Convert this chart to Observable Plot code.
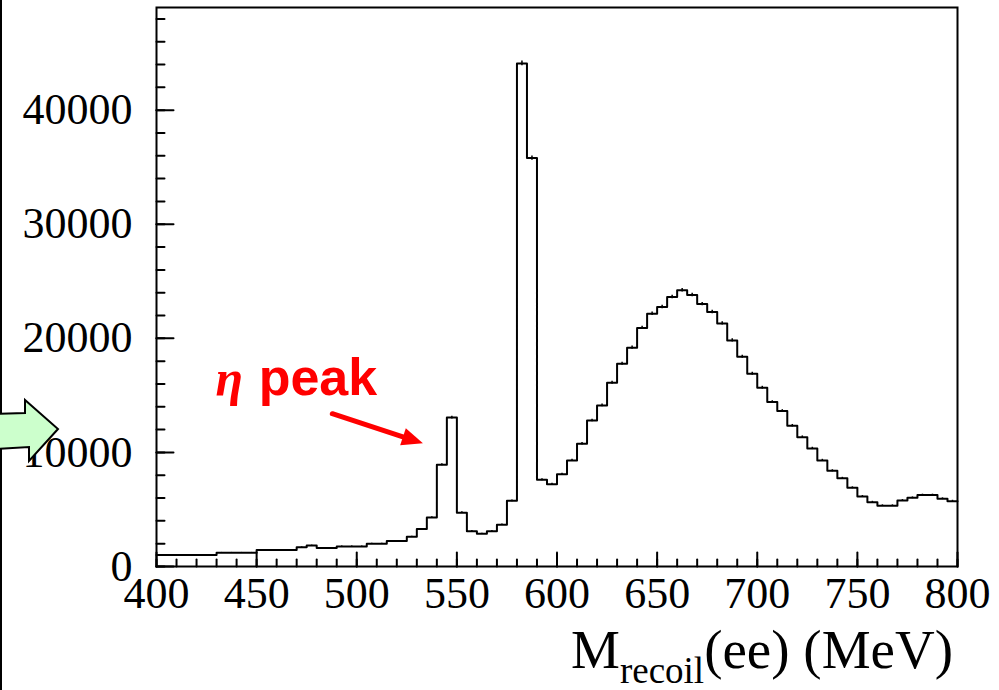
<!DOCTYPE html>
<html>
<head>
<meta charset="utf-8">
<script src="https://cdn.jsdelivr.net/npm/d3@7"></script>
<script src="https://cdn.jsdelivr.net/npm/@observablehq/plot@0.6"></script>
<style>
  html, body { margin: 0; padding: 0; background: #fff; }
  #chart { width: 999px; height: 690px; overflow: hidden; }
  #chart svg { display: block; }
</style>
</head>
<body>
<div id="chart"></div>
<script>
// Recoil mass spectrum M_recoil(ee), 5 MeV bins: lower bin edges (MeV)
const binLow = [
  400, 405, 410, 415, 420, 425, 430, 435, 440, 445,
  450, 455, 460, 465, 470, 475, 480, 485, 490, 495,
  500, 505, 510, 515, 520, 525, 530, 535, 540, 545,
  550, 555, 560, 565, 570, 575, 580, 585, 590, 595,
  600, 605, 610, 615, 620, 625, 630, 635, 640, 645,
  650, 655, 660, 665, 670, 675, 680, 685, 690, 695,
  700, 705, 710, 715, 720, 725, 730, 735, 740, 745,
  750, 755, 760, 765, 770, 775, 780, 785, 790, 795
];
const binWidth = 5;

// Entries per bin
const counts = [
  1000, 1000, 1000, 1000, 1000, 1000, 1200, 1200, 1200, 1200,
  1450, 1450, 1450, 1450, 1680, 1830, 1620, 1620, 1760, 1760,
  1760, 2000, 2000, 2240, 2240, 2600, 3280, 4300, 8920, 13050,
  4720, 3100, 2870, 3100, 3670, 5760, 44100, 35800, 7600, 7220,
  8080, 9300, 10760, 12800, 14120, 16110, 17780, 19180, 20910, 22160,
  22750, 23630, 24210, 23800, 23000, 22310, 21310, 19820, 18390, 16900,
  15670, 14410, 13630, 12340, 11340, 10350, 9300, 8390, 7730, 6900,
  6140, 5640, 5330, 5330, 5790, 6020, 6260, 6260, 5940, 5730
];

// Axis ticks
const xTickLabels = [400, 450, 500, 550, 600, 650, 700, 750, 800];
const xMinorTicks = d3.range(400, 801, 10);
const yTickLabels = [0, 10000, 20000, 30000, 40000];
const yMinorTicks = d3.range(0, 49000, 2000);

// "η peak" annotation, in data coordinates
const etaText = [{text: "η", x: 429.5, y: 15000}];
const peakText = [{text: "peak", x: 451, y: 15000}];
const etaArrow = [{x1: 487.8, y1: 13390, x2: 533.3, y2: 10760}];

// Histogram outline: each bin value held from its lower edge, closed at 800 MeV
const steps = binLow.map((x, i) => ({x, y: counts[i]}));
steps.push({x: binLow[binLow.length - 1] + binWidth, y: counts[counts.length - 1]});

// Bins with statistical error bars at their centres
const bins = binLow.map((x, i) => ({x: x + binWidth / 2, n: counts[i]}));

// Straight tick drawn inward from the frame
const tickShape = {draw(ctx, l) { ctx.moveTo(0, 0); ctx.lineTo(0, -l); }};

const red = "#ff0000";

const plot = Plot.plot({
  width: 999,
  height: 690,
  marginLeft: 156,
  marginRight: 42,
  marginTop: 7,
  marginBottom: 124,
  x: {domain: [400, 800]},
  y: {domain: [0, 49000]},
  style: {fontFamily: "'Liberation Serif', 'Times New Roman', serif", fontSize: "44px", color: "black", background: "white"},
  marks: [
    Plot.line(steps, {x: "x", y: "y", curve: "step-after", stroke: "black", strokeWidth: 2}),
    Plot.ruleX(bins, {x: "x", y1: d => d.n - Math.sqrt(d.n), y2: d => d.n + Math.sqrt(d.n), stroke: "black", strokeWidth: 1.5}),
    // minor and major ticks inside the frame
    Plot.vector(yMinorTicks, {y: d => d, frameAnchor: "left", rotate: 90, length: 8, anchor: "start", shape: tickShape, stroke: "black", strokeWidth: 2}),
    Plot.vector(yTickLabels, {y: d => d, frameAnchor: "left", rotate: 90, length: 17, anchor: "start", shape: tickShape, stroke: "black", strokeWidth: 2}),
    Plot.vector(xMinorTicks, {x: d => d, frameAnchor: "bottom", rotate: 0, length: 7, anchor: "start", shape: tickShape, stroke: "black", strokeWidth: 2}),
    Plot.vector(xTickLabels, {x: d => d, frameAnchor: "bottom", rotate: 0, length: 14, anchor: "start", shape: tickShape, stroke: "black", strokeWidth: 2}),
    Plot.frame({stroke: "black", strokeWidth: 2}),
    Plot.axisY(yTickLabels, {tickSize: 0, tickPadding: 24, tickFormat: d => String(d), label: null, fontSize: 44}),
    Plot.axisX(xTickLabels, {tickSize: 0, tickPadding: 10, tickFormat: d => String(d), label: null, fontSize: 44}),
    // annotation
    Plot.text(etaText, {x: "x", y: "y", text: "text", textAnchor: "start", lineAnchor: "bottom", fill: red, fontSize: 50, fontStyle: "italic", fontWeight: "bold", fontFamily: "'Liberation Serif', serif"}),
    Plot.text(peakText, {x: "x", y: "y", text: "text", textAnchor: "start", lineAnchor: "bottom", fill: red, fontSize: 52, fontWeight: "bold", fontFamily: "'Liberation Sans', Arial, sans-serif"}),
    Plot.arrow(etaArrow, {x1: "x1", y1: "y1", x2: "x2", y2: "y2", stroke: red, strokeWidth: 5, headLength: 0, insetEnd: 16})
  ]
});

const svg = d3.select(plot);
const sx = plot.scale("x"), sy = plot.scale("y");

// Filled arrowhead at the tip of the annotation arrow
etaArrow.forEach(a => {
  const tx = sx.apply(a.x2), ty = sy.apply(a.y2);
  const fx = sx.apply(a.x1), fy = sy.apply(a.y1);
  const len = Math.hypot(tx - fx, ty - fy);
  const ux = (tx - fx) / len, uy = (ty - fy) / len;
  const hl = 21, hw = 9;
  const bx = tx - ux * hl, by = ty - uy * hl;
  svg.append("path")
    .attr("d", `M${tx},${ty}L${bx - uy * hw},${by + ux * hw}L${bx + uy * hw},${by - ux * hw}Z`)
    .attr("fill", red);
});

// Axis title with subscript, right-aligned at the end of the x axis
const title = svg.append("text")
  .attr("x", 999 - 42 - 4)
  .attr("y", 668)
  .attr("text-anchor", "end")
  .attr("fill", "black")
  .style("font-family", "'Liberation Serif', 'Times New Roman', serif")
  .style("font-size", "55px");
title.append("tspan").text("M");
title.append("tspan").attr("dy", 15).style("font-size", "37px").text("recoil");
title.append("tspan").attr("dy", -15).text("(ee) (MeV)");

// Slide decorations at the left edge: border line and green pointer arrow
svg.append("line")
  .attr("x1", 1).attr("x2", 1).attr("y1", 0).attr("y2", 690)
  .attr("stroke", "black").attr("stroke-width", 2);
svg.append("path")
  .attr("d", "M-5,414L25,413L25,400L58,429L29,461L29,447L-5,449Z")
  .attr("fill", "#ccffcc")
  .attr("stroke", "black")
  .attr("stroke-width", 2)
  .attr("stroke-linejoin", "miter");

document.getElementById("chart").append(plot);
</script>
</body>
</html>
